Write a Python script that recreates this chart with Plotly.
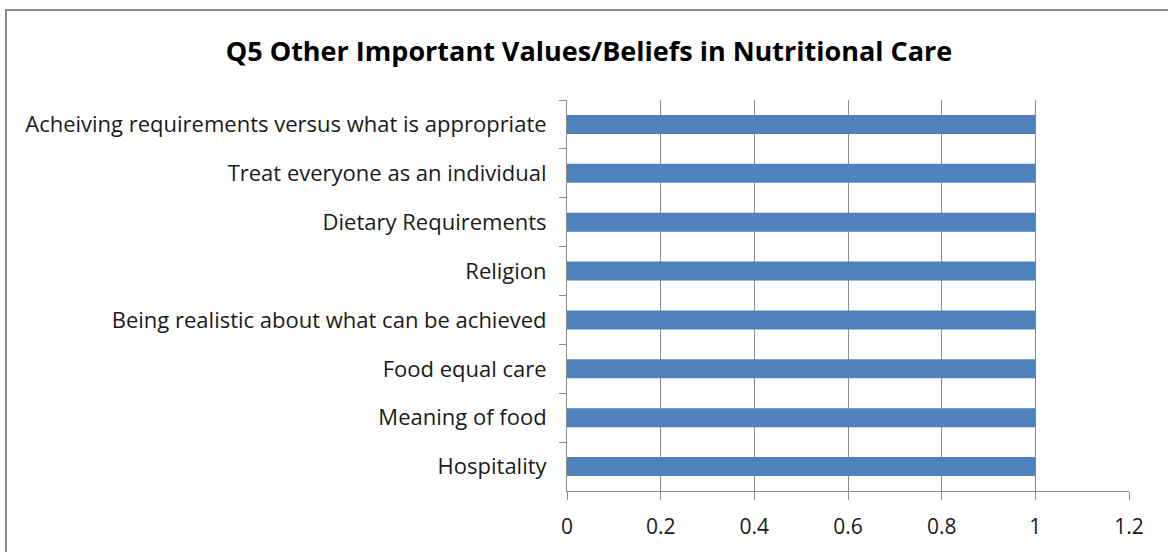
import plotly.graph_objects as go

categories = [
    "Acheiving requirements versus what is appropriate",
    "Treat everyone as an individual",
    "Dietary Requirements",
    "Religion",
    "Being realistic about what can be achieved",
    "Food equal care",
    "Meaning of food",
    "Hospitality",
]
values = [1, 1, 1, 1, 1, 1, 1, 1]
x_ticks = [0, 0.2, 0.4, 0.6, 0.8, 1.0, 1.2]
x_tick_labels = ["0", "0.2", "0.4", "0.6", "0.8", "1", "1.2"]
title_text = "Q5 Other Important Values/Beliefs in Nutritional Care"

W, H = 1168, 552
ml, mr, mt, mb = 567, 39, 100, 61
pw, ph = W - ml - mr, H - mt - mb

def px_to_paper_x(px):
    return (px - ml) / pw

def px_to_paper_y(py):
    return (H - mb - py) / ph

FONT = "'Open Sans', Lato, sans-serif"
GRID = "#8c8c8c"
TXT = "#1a1a1a"

fig = go.Figure(go.Bar(
    x=values, y=categories, orientation="h",
    marker=dict(color="#4F81BD", line=dict(width=0)),
    hoverinfo="x+y",
))

fig.update_layout(
    width=W, height=H,
    margin=dict(l=ml, r=mr, t=mt, b=mb),
    paper_bgcolor="white", plot_bgcolor="white",
    bargap=0.61,
    showlegend=False,
    title=dict(text="<b>" + title_text + "</b>", x=px_to_paper_x(589), xref="paper",
               xanchor="center", y=1 - 52 / H, yanchor="middle",
               font=dict(family=FONT, size=27, color="black")),
    font=dict(family=FONT, size=22, color=TXT),
    xaxis=dict(range=[0, 1.2], tickvals=x_ticks, ticktext=x_tick_labels,
               showgrid=True, gridcolor=GRID, gridwidth=1,
               zeroline=False, showline=True, linecolor=GRID, linewidth=1,
               ticks="outside", ticklen=8, tickcolor=GRID,
               ticklabelstandoff=9,
               tickfont=dict(family=FONT, size=21, color=TXT),
               fixedrange=True),
    yaxis=dict(autorange="reversed", showgrid=False, zeroline=False,
               showline=True, linecolor=GRID, linewidth=1,
               ticks="outside", ticklen=7, tickcolor=GRID, tickson="boundaries",
               ticklabelstandoff=15,
               tickfont=dict(family=FONT, size=22, color=TXT),
               fixedrange=True),
    shapes=[dict(type="rect", xref="paper", yref="paper",
                 x0=px_to_paper_x(6), x1=px_to_paper_x(1175),
                 y0=px_to_paper_y(560), y1=px_to_paper_y(10),
                 line=dict(color=GRID, width=2), fillcolor="rgba(0,0,0,0)",
                 layer="below")],
)

fig.write_html("out.html", config={"displayModeBar": False},
               post_script="document.body.style.margin='0';document.body.style.overflow='hidden';")
